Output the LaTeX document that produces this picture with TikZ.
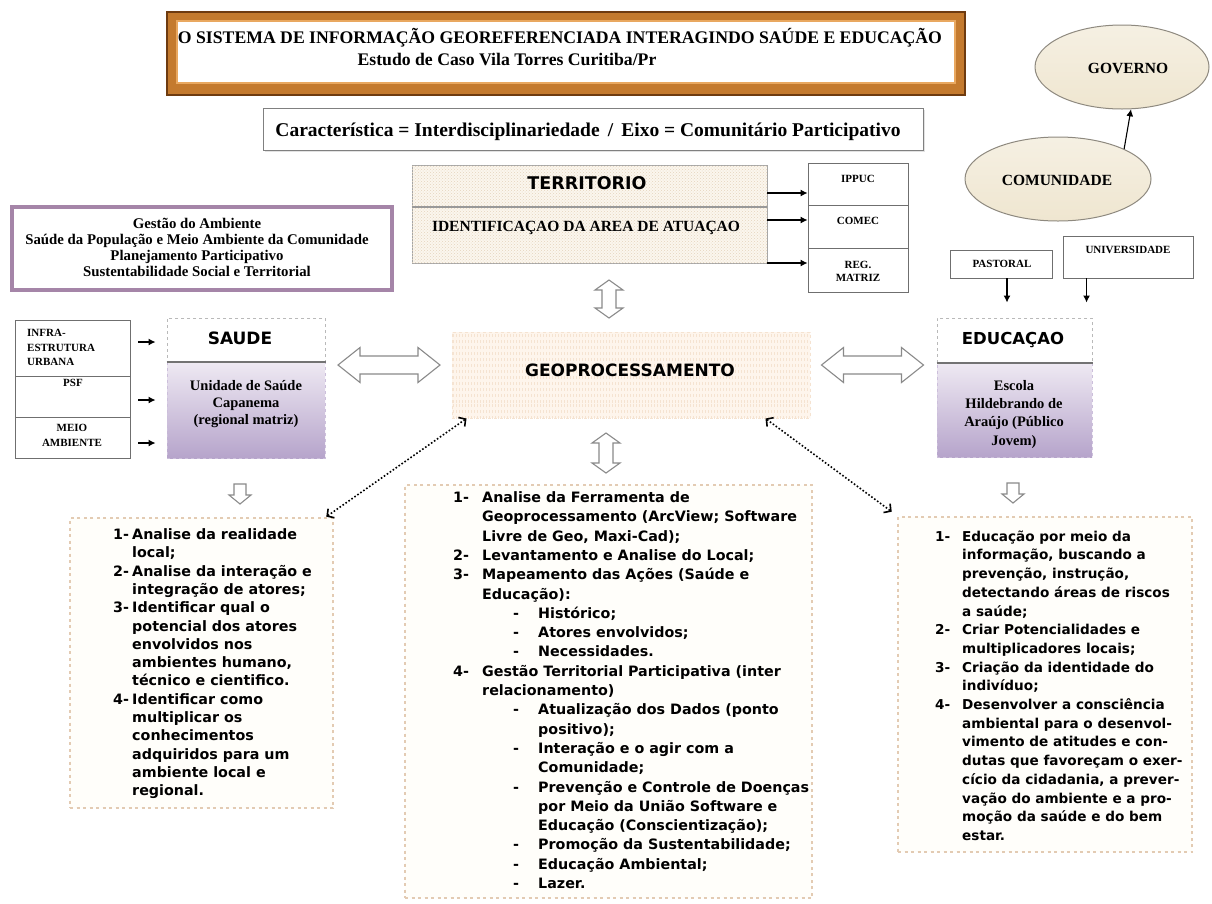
\documentclass[tikz,border=0pt]{standalone}
\usepackage{fontspec}
\setmainfont{Liberation Serif}
\newfontfamily\dv{DejaVu Sans}
\usetikzlibrary{shapes.geometric,arrows.meta,patterns,calc,shadows}
\definecolor{brdark}{HTML}{6E3B10}
\definecolor{brmid}{HTML}{C47A2E}
\definecolor{brlite}{HTML}{E9A860}
\definecolor{boxline}{HTML}{6F6F6F}
\definecolor{purpfr}{HTML}{A585A8}
\definecolor{purptop}{HTML}{EFEAF3}
\definecolor{purpbot}{HTML}{B6A4CB}
\definecolor{cream}{HTML}{EFE6D0}
\definecolor{elline}{HTML}{8E897F}
\definecolor{terrfill}{HTML}{FBF6EE}
\definecolor{terrdot}{HTML}{E4D5BD}
\definecolor{geofill}{HTML}{FEF5EC}
\definecolor{geoline}{HTML}{F5E3D1}
\definecolor{listfill}{HTML}{FFFEFA}
\definecolor{listedge}{HTML}{E3CBB3}
\definecolor{hollowc}{HTML}{8A8A8A}
\newcommand\NI[2]{\makebox[#1][l]{#2}}
\begin{document}
\begin{tikzpicture}[x=1pt,y=-1pt,
  sbox/.style={draw=boxline, line width=0.9, fill=white, inner sep=0},
  stxt/.style={inner sep=0, anchor=base, font=\bfseries\fontsize{#1}{#1}\selectfont},
  mtxt/.style 2 args={inner sep=0, align=center, font=\bfseries\fontsize{#1}{#2}\selectfont},
  htxt/.style={inner sep=0, anchor=base, font=\dv\bfseries\fontsize{#1}{#1}\selectfont},
  listbox/.style={draw=listedge, line width=2.6, dash pattern=on 3pt off 3.5pt, fill=listfill, inner sep=0},
  listtxt/.style={anchor=north west, inner sep=0, align=left},
  arr/.style={draw=black, line width=1.1, -{Latex[length=7pt,width=7pt]}},
  dotarr/.style={draw=black, line width=1.6, dotted, {Straight Barb[length=5pt,width=11pt,line width=1.6pt]}-{Straight Barb[length=5pt,width=11pt,line width=1.6pt]}},
  hollow/.style={draw=hollowc, line width=1.1, fill=white, line join=miter},
  pics/hdbl/.style n args={4}{code={
    \path[hollow] ({-#1/2},0) -- ({-#1/2+#2},{-#4}) -- ({-#1/2+#2},{-#3}) -- ({#1/2-#2},{-#3}) -- ({#1/2-#2},{-#4}) -- ({#1/2},0) -- ({#1/2-#2},{#4}) -- ({#1/2-#2},{#3}) -- ({-#1/2+#2},{#3}) -- ({-#1/2+#2},{#4}) -- cycle;
  }},
  pics/hdown/.style n args={4}{code={
    \path[hollow] ({-#3},{-#1/2}) -- ({#3},{-#1/2}) -- ({#3},{#1/2-#2}) -- ({#4},{#1/2-#2}) -- (0,{#1/2}) -- ({-#4},{#1/2-#2}) -- ({-#3},{#1/2-#2}) -- cycle;
  }}
]
\useasboundingbox (0,0) rectangle (1212,903);
\fill[white] (0,0) rectangle (1212,903);

% ---------- title ----------
\node[fill=brmid, draw=brdark, line width=2, minimum width=798, minimum height=83, inner sep=0] (tframe) at (566,53.5) {};
\node[fill=white, draw=brlite, line width=1.2, minimum width=778, minimum height=62, inner sep=0] (tinner) at (566,52) {};
\node[stxt=17.7] (tl1) at (560,43.7) {O SISTEMA DE INFORMAÇÃO GEOREFERENCIADA INTERAGINDO SAÚDE E EDUCAÇÃO};
\node[stxt=17.7] (tl2) at (507,65.7) {Estudo de Caso Vila Torres Curitiba/Pr};

% ---------- caracteristica ----------
\node[sbox, draw=gray, drop shadow={shadow xshift=2pt, shadow yshift=-2pt, fill=gray!45}, minimum width=660, minimum height=42] (cara) at (593,129) {};
\node[stxt=19.5] (caratxt) at (588,136) {Característica = Interdisciplinariedade \,/\, Eixo = Comunitário Participativo};

% ---------- ellipses ----------
\node[ellipse, draw=elline, line width=1, top color=cream!60, bottom color=cream, minimum width=174, minimum height=84, inner sep=0] (gov) at (1122,67) {};
\node[stxt=15.5] (govtxt) at (1128,73) {GOVERNO};
\node[ellipse, draw=elline, line width=1, top color=cream!60, bottom color=cream, minimum width=186, minimum height=84, inner sep=0] (comun) at (1058,179) {};
\node[stxt=15.5] (comtxt) at (1057,185) {COMUNIDADE};
\draw[arr] (comun.north east) -- (gov.-78);

% ---------- territorio ----------
\node[draw=gray!70, line width=0.8, fill=terrfill, postaction={pattern=crosshatch dots, pattern color=terrdot}, minimum width=355, minimum height=98, inner sep=0] (terr) at (589.5,214) {};
\draw[gray!80, line width=1.2] (terr.west |- 0,207) -- (terr.east |- 0,207);
\node[htxt=17.5] (terrtxt) at (587,189.4) {TERRITORIO};
\node[stxt=15.5] (idtxt) at (586,231) {IDENTIFICAÇAO DA AREA DE ATUAÇAO};

\node[sbox, minimum width=100, minimum height=42] (ippuc) at (858,184) {};
\node[sbox, minimum width=100, minimum height=43] (comec) at (858,226.5) {};
\node[sbox, minimum width=100, minimum height=44] (regm) at (858,270) {};
\node[stxt=11] (ippuctxt) at (858,182) {IPPUC};
\node[stxt=11] (comectxt) at (858,224) {COMEC};
\node[mtxt={11}{12.5}, anchor=north] (regmtxt) at (858,261.5) {REG.\\MATRIZ};
\draw[arr] ($(terr.east|-ippuc.center)+(0,9)$) -- ($(ippuc.west)+(0,9)$);
\draw[arr] ($(terr.east|-comec.center)+(0,-6.5)$) -- ($(comec.west)+(0,-6.5)$);
\draw[arr] ($(terr.east|-regm.center)+(0,-7)$) -- ($(regm.west)+(0,-7)$);

% ---------- purple box ----------
\node[draw=purpfr, line width=3.5, fill=white, minimum width=380, minimum height=83, inner sep=0] (purp) at (202,248.5) {};
\node[mtxt={14.8}{16}, anchor=north] (purptxt) at (197,217.5) {Gestão do Ambiente\\Saúde da População e Meio Ambiente da Comunidade\\Planejamento Participativo\\Sustentabilidade Social e Territorial};

% ---------- left small boxes ----------
\node[sbox, minimum width=115, minimum height=56] (infra) at (72.5,348) {};
\node[sbox, minimum width=115, minimum height=41] (psf) at (72.5,396.5) {};
\node[sbox, minimum width=115, minimum height=41] (meio) at (72.5,437.5) {};
\node[inner sep=0, align=left, anchor=north west, font=\bfseries\fontsize{11}{14.5}\selectfont] (infratxt) at (27,329.5) {INFRA-\\ESTRUTURA\\URBANA};
\node[stxt=11] (psftxt) at (73,386) {PSF};
\node[mtxt={11}{15}, anchor=north] (meiotxt) at (72,424.5) {MEIO\\AMBIENTE};

% ---------- saude ----------
\node[draw=gray!55, dashed, line width=1, fill=white, minimum width=158, minimum height=43, inner sep=0] (saudet) at (246,339.5) {};
\node[draw=purpbot!70, dashed, line width=1, top color=purptop, bottom color=purpbot, minimum width=158, minimum height=97, inner sep=0] (saudeb) at (246,409.5) {};
\draw[gray!90!black, line width=2] (saudet.south west) -- (saudet.south east);
\node[htxt=17] (saudetxt) at (240,344) {SAUDE};
\node[mtxt={14.5}{17}, anchor=north] (unidtxt) at (246,380) {Unidade de Saúde\\Capanema\\(regional matriz)};
\draw[arr, shorten <=8pt, shorten >=11pt] ($(infra.east)+(0,-6)$) -- ($(infra.east -| saudeb.west)+(0,-6)$);
\draw[arr, shorten <=8pt, shorten >=11pt] ($(psf.east)+(0,3.5)$) -- ($(psf.east -| saudeb.west)+(0,3.5)$);
\draw[arr, shorten <=8pt, shorten >=11pt] ($(meio.east)+(0,5.5)$) -- ($(meio.east -| saudeb.west)+(0,5.5)$);

% ---------- educacao ----------
\node[sbox, minimum width=102, minimum height=28] (pastoral) at (1001,264) {};
\node[stxt=11] (pasttxt) at (1002,267.5) {PASTORAL};
\node[sbox, minimum width=130, minimum height=42] (univ) at (1128,257) {};
\node[stxt=11] (univtxt) at (1128,253) {UNIVERSIDADE};
\node[draw=gray!55, dashed, line width=1, fill=white, minimum width=155, minimum height=44, inner sep=0] (educt) at (1014.5,340) {};
\node[draw=purpbot!70, dashed, line width=1, top color=purptop, bottom color=purpbot, minimum width=155, minimum height=95, inner sep=0] (educb) at (1014.5,409.5) {};
\draw[gray!90!black, line width=2] (educt.south west) -- (educt.south east);
\node[htxt=16.5] (eductxt) at (1013,344) {EDUCAÇAO};
\node[mtxt={14.5}{18.3}, anchor=north] (escotxt) at (1014,380) {Escola\\Hildebrando de\\Araújo (Público\\Jovem)};
\draw[arr, shorten >=15pt] ($(pastoral.south)+(6,0)$) -- ($(pastoral.south|-educt.north)+(6,0)$);
\draw[arr, shorten >=15pt] ($(univ.south west)+(24,0)$) -- ($(univ.south west|-educt.north)+(24,0)$);

% ---------- geoprocessamento ----------
\node[draw=geoline, dashed, line width=1, fill=geofill, postaction={pattern=vertical lines, pattern color=geoline}, minimum width=358, minimum height=86, inner sep=0] (geo) at (631,375) {};
\node[htxt=17] (geotxt) at (630,376) {GEOPROCESSAMENTO};

% ---------- hollow arrows ----------
\pic at (389,365) {hdbl={102}{22}{9}{17.5}};
\pic at (872.5,365) {hdbl={102}{22}{9}{17.5}};
\pic[rotate=90] at (609,299) {hdbl={38}{10}{7}{14}};
\pic[rotate=90] at (606,453) {hdbl={40}{10}{7}{14}};
\pic at (240,494) {hdown={20}{9}{6}{11}};
\pic at (1013,493) {hdown={20}{9}{6}{11}};

% ---------- list boxes ----------
\node[listbox, minimum width=263, minimum height=290] (lbox) at (201.5,663) {};
\node[listbox, minimum width=407, minimum height=413] (cbox) at (608.5,691.5) {};
\node[listbox, minimum width=294, minimum height=335] (rbox) at (1045,684.5) {};

\draw[dotarr] ($(lbox.north east)+(-8,0)$) -- ($(geo.south west)+(15,0)$);
\draw[dotarr] ($(geo.south east)+(-45,0)$) -- ($(rbox.north west)+(-5,-4)$);

\node[listtxt, font=\dv\bfseries\fontsize{14.3}{18.3}\selectfont] (ltxt) at (113,528.5) {%
\NI{19pt}{1-}Analise da realidade\\
\hspace*{19pt}local;\\
\NI{19pt}{2-}Analise da interação e\\
\hspace*{19pt}integração de atores;\\
\NI{19pt}{3-}Identificar qual o\\
\hspace*{19pt}potencial dos atores\\
\hspace*{19pt}envolvidos nos\\
\hspace*{19pt}ambientes humano,\\
\hspace*{19pt}técnico e cientifico.\\
\NI{19pt}{4-}Identificar como\\
\hspace*{19pt}multiplicar os\\
\hspace*{19pt}conhecimentos\\
\hspace*{19pt}adquiridos para um\\
\hspace*{19pt}ambiente local e\\
\hspace*{19pt}regional.};

\node[listtxt, font=\dv\bfseries\fontsize{14.3}{19.3}\selectfont] (ctxt) at (453,491.5) {%
\NI{29pt}{1-}Analise da Ferramenta de\\
\hspace*{29pt}Geoprocessamento (ArcView; Software\\
\hspace*{29pt}Livre de Geo, Maxi-Cad);\\
\NI{29pt}{2-}Levantamento e Analise do Local;\\
\NI{29pt}{3-}Mapeamento das Ações (Saúde e\\
\hspace*{29pt}Educação):\\
\hspace*{60pt}\NI{25pt}{-}Histórico;\\
\hspace*{60pt}\NI{25pt}{-}Atores envolvidos;\\
\hspace*{60pt}\NI{25pt}{-}Necessidades.\\
\NI{29pt}{4-}Gestão Territorial Participativa (inter\\
\hspace*{29pt}relacionamento)\\
\hspace*{60pt}\NI{25pt}{-}Atualização dos Dados (ponto\\
\hspace*{85pt}positivo);\\
\hspace*{60pt}\NI{25pt}{-}Interação e o agir com a\\
\hspace*{85pt}Comunidade;\\
\hspace*{60pt}\NI{25pt}{-}Prevenção e Controle de Doenças\\
\hspace*{85pt}por Meio da União Software e\\
\hspace*{85pt}Educação (Conscientização);\\
\hspace*{60pt}\NI{25pt}{-}Promoção da Sustentabilidade;\\
\hspace*{60pt}\NI{25pt}{-}Educação Ambiental;\\
\hspace*{60pt}\NI{25pt}{-}Lazer.};

\node[listtxt, font=\dv\bfseries\fontsize{13.6}{18.7}\selectfont] (rtxt) at (935,530.5) {%
\NI{27pt}{1-}Educação por meio da\\
\hspace*{27pt}informação, buscando a\\
\hspace*{27pt}prevenção, instrução,\\
\hspace*{27pt}detectando áreas de riscos\\
\hspace*{27pt}a saúde;\\
\NI{27pt}{2-}Criar Potencialidades e\\
\hspace*{27pt}multiplicadores locais;\\
\NI{27pt}{3-}Criação da identidade do\\
\hspace*{27pt}indivíduo;\\
\NI{27pt}{4-}Desenvolver a consciência\\
\hspace*{27pt}ambiental para o desenvol-\\
\hspace*{27pt}vimento de atitudes e con-\\
\hspace*{27pt}dutas que favoreçam o exer-\\
\hspace*{27pt}cício da cidadania, a prever-\\
\hspace*{27pt}vação do ambiente e a pro-\\
\hspace*{27pt}moção da saúde e do bem\\
\hspace*{27pt}estar.};
\end{tikzpicture}
\end{document}
